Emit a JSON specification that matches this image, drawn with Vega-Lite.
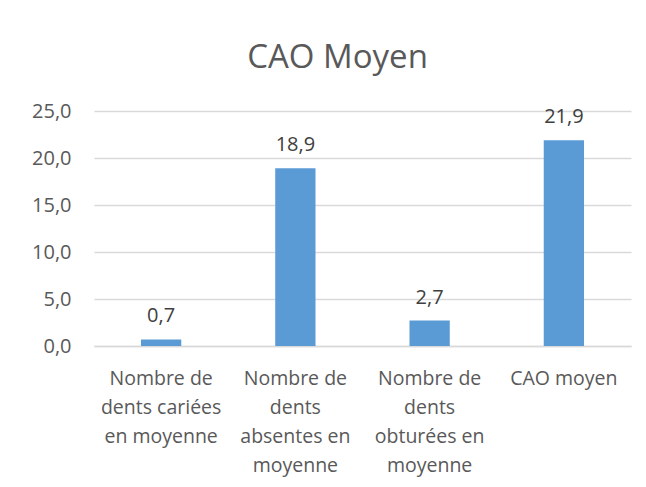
{
  "$schema": "https://vega.github.io/schema/vega-lite/v6.json",
  "width": 537,
  "height": 235,
  "autosize": {"type": "none"},
  "padding": {"left": 94, "top": 111, "right": 15, "bottom": 141},
  "background": "white",
  "title": {
    "text": "CAO Moyen",
    "font": "Open Sans",
    "fontSize": 33,
    "fontWeight": "normal",
    "color": "#595959",
    "anchor": "middle",
    "frame": "group",
    "dx": -25,
    "baseline": "alphabetic",
    "offset": 0
  },
  "config": {
    "locale": {"number": {"decimal": ",", "thousands": " ", "grouping": [3], "currency": ["", " €"]}},
    "view": {"stroke": null},
    "font": "Open Sans"
  },
  "data": {
    "values": [
      {"categorie": "Nombre de dents cariées en moyenne", "valeur": 0.7},
      {"categorie": "Nombre de dents absentes en moyenne", "valeur": 18.9},
      {"categorie": "Nombre de dents obturées en moyenne", "valeur": 2.7},
      {"categorie": "CAO moyen", "valeur": 21.9}
    ]
  },
  "encoding": {
    "x": {
      "field": "categorie",
      "type": "nominal",
      "sort": null,
      "scale": {"paddingInner": 0.7, "paddingOuter": 0.35},
      "axis": {
        "title": null,
        "labelAngle": 0,
        "labelFont": "Open Sans",
        "labelFontSize": 19.5,
        "labelColor": "#595959",
        "labelLineHeight": 29,
        "labelPadding": 23,
        "labelLimit": 0,
        "ticks": false,
        "domainColor": "#D9D9D9",
        "domainWidth": 1.3,
        "labelExpr": "datum.value == 'Nombre de dents cariées en moyenne' ? ['Nombre de', 'dents cariées', 'en moyenne'] : datum.value == 'Nombre de dents absentes en moyenne' ? ['Nombre de', 'dents', 'absentes en', 'moyenne'] : datum.value == 'Nombre de dents obturées en moyenne' ? ['Nombre de', 'dents', 'obturées en', 'moyenne'] : datum.value"
      }
    },
    "y": {
      "field": "valeur",
      "type": "quantitative",
      "scale": {"domain": [0, 25], "nice": false},
      "axis": {
        "title": null,
        "values": [0, 5, 10, 15, 20, 25],
        "format": ".1f",
        "labelFont": "Open Sans",
        "labelFontSize": 20,
        "labelColor": "#595959",
        "labelPadding": 23,
        "ticks": false,
        "domain": false,
        "gridColor": "#D9D9D9",
        "gridWidth": 1.3
      }
    }
  },
  "layer": [
    {"mark": {"type": "bar", "color": "#5B9BD5"}},
    {
      "mark": {"type": "text", "baseline": "alphabetic", "dy": -17, "font": "Open Sans", "fontSize": 20, "color": "#404040"},
      "encoding": {"text": {"field": "valeur", "type": "quantitative", "format": ".1f"}}
    }
  ]
}
